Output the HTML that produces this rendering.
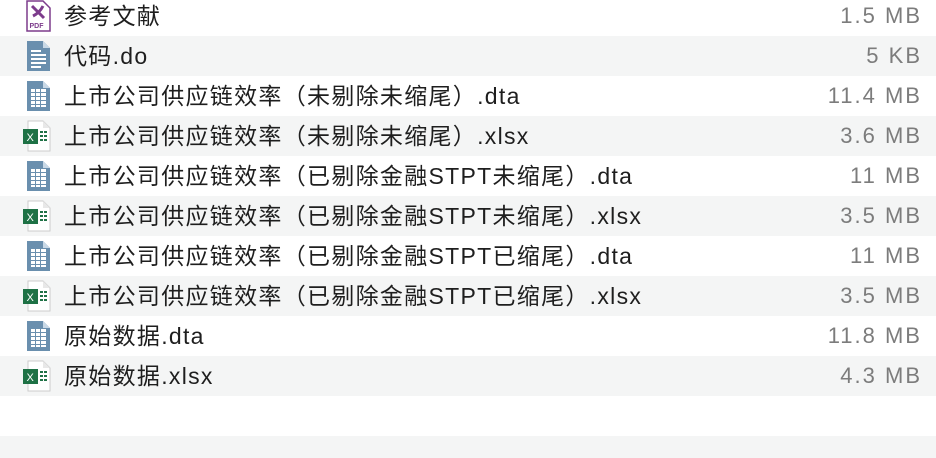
<!DOCTYPE html>
<html><head><meta charset="utf-8"><style>
html,body{margin:0;width:936px;height:458px;overflow:hidden;background:#fff;font-family:"Liberation Sans","Noto Sans CJK SC",sans-serif;}
body{position:relative;}
.r{position:absolute;left:0;width:936px;height:40px;}
.g{background:#f4f5f5;}
.n{position:absolute;left:64px;top:0;line-height:40px;font-size:23px;letter-spacing:1.3px;color:#1e1e1e;white-space:nowrap;}
.s{position:absolute;right:14px;top:0;line-height:40px;font-size:22px;letter-spacing:2px;color:#7c7c7c;}
svg{position:absolute;left:22px;top:4px;}
</style></head><body>
<svg width="0" height="0" style="position:absolute">
<defs>
<symbol id="doc" viewBox="0 0 32 32"><path d="M5 1h16l7 7v23H5z" fill="#6a8fae"/><path d="M21 1v7h7z" fill="#c8d8e6"/></symbol>
<symbol id="txt" viewBox="0 0 32 32"><use href="#doc"/><g fill="#fff"><rect x="9" y="10" width="10" height="2"/><rect x="9" y="14" width="15" height="2"/><rect x="9" y="18" width="15" height="2"/><rect x="9" y="22" width="15" height="2"/><rect x="9" y="26" width="10" height="2"/></g></symbol>
<symbol id="tab" viewBox="0 0 32 32"><use href="#doc"/><g fill="#fff"><rect x="9" y="9" width="15" height="18"/></g><g fill="#6a8fae"><rect x="13" y="9" width="1" height="18"/><rect x="18" y="9" width="1" height="18"/><rect x="9" y="12" width="15" height="1"/><rect x="9" y="16" width="15" height="1"/><rect x="9" y="20" width="15" height="1"/><rect x="9" y="24" width="15" height="1"/></g></symbol>
<symbol id="xls" viewBox="0 0 32 32"><path d="M6 1h15l7 7v23H6z" fill="#fff" stroke="#ccc"/><path d="M21 1v7h7z" fill="#e8e8e8"/><rect x="1" y="9" width="15" height="15" fill="#1e7145"/><text x="4.5" y="21" font-size="11" fill="#fff" font-family="Liberation Sans">X</text><g fill="#1e7145"><rect x="18" y="11" width="3" height="2"/><rect x="22" y="11" width="3" height="2"/><rect x="18" y="15" width="3" height="2"/><rect x="22" y="15" width="3" height="2"/><rect x="18" y="19" width="3" height="2"/><rect x="22" y="19" width="3" height="2"/></g></symbol>
<symbol id="pdf" viewBox="0 0 32 32"><path d="M5 1h16l7 7v23H5z" fill="#fff" stroke="#7d3c8c" stroke-width="1.5"/><path d="M10 6l12 12M11 16c4-2 8-6 10-10" stroke="#7d3c8c" stroke-width="3" fill="none"/><text x="7.5" y="28" font-size="7" fill="#7d3c8c" font-family="Liberation Sans" font-weight="bold">PDF</text></symbol>
</defs></svg>

<div class="r" style="top:-4px"><svg width="32" height="32"><use href="#pdf"/></svg><div class="n">参考文献</div><div class="s">1.5 MB</div></div>
<div class="r g" style="top:36px"><svg width="32" height="32"><use href="#txt"/></svg><div class="n">代码.do</div><div class="s">5 KB</div></div>
<div class="r" style="top:76px"><svg width="32" height="32"><use href="#tab"/></svg><div class="n">上市公司供应链效率（未剔除未缩尾）.dta</div><div class="s">11.4 MB</div></div>
<div class="r g" style="top:116px"><svg width="32" height="32"><use href="#xls"/></svg><div class="n">上市公司供应链效率（未剔除未缩尾）.xlsx</div><div class="s">3.6 MB</div></div>
<div class="r" style="top:156px"><svg width="32" height="32"><use href="#tab"/></svg><div class="n">上市公司供应链效率（已剔除金融STPT未缩尾）.dta</div><div class="s">11 MB</div></div>
<div class="r g" style="top:196px"><svg width="32" height="32"><use href="#xls"/></svg><div class="n">上市公司供应链效率（已剔除金融STPT未缩尾）.xlsx</div><div class="s">3.5 MB</div></div>
<div class="r" style="top:236px"><svg width="32" height="32"><use href="#tab"/></svg><div class="n">上市公司供应链效率（已剔除金融STPT已缩尾）.dta</div><div class="s">11 MB</div></div>
<div class="r g" style="top:276px"><svg width="32" height="32"><use href="#xls"/></svg><div class="n">上市公司供应链效率（已剔除金融STPT已缩尾）.xlsx</div><div class="s">3.5 MB</div></div>
<div class="r" style="top:316px"><svg width="32" height="32"><use href="#tab"/></svg><div class="n">原始数据.dta</div><div class="s">11.8 MB</div></div>
<div class="r g" style="top:356px"><svg width="32" height="32"><use href="#xls"/></svg><div class="n">原始数据.xlsx</div><div class="s">4.3 MB</div></div>
<div class="r" style="top:396px"></div>
<div class="r g" style="top:436px;height:22px"></div>
</body></html>
